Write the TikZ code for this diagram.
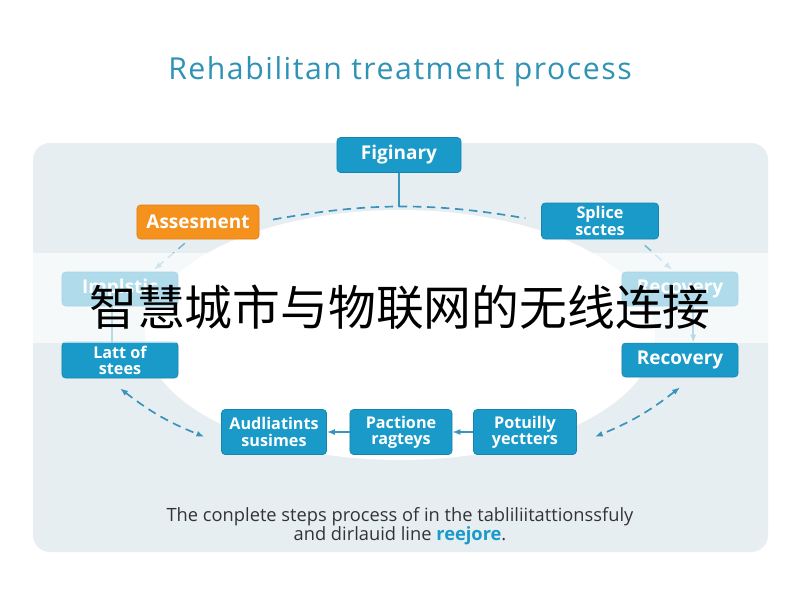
\documentclass[tikz,border=0pt]{standalone}
\usepackage{fontspec}
\setmainfont{Open Sans}
\newfontfamily\cjk{Noto Sans CJK SC}
\usetikzlibrary{arrows.meta}
\definecolor{stepblue}{HTML}{1A9AC8}
\definecolor{stepedge}{HTML}{1584AE}
\definecolor{steporange}{HTML}{F5921E}
\definecolor{orangeedge}{HTML}{E07E10}
\definecolor{titleblue}{HTML}{2E93B5}
\definecolor{panel}{HTML}{E7EEF2}
\definecolor{dashblue}{HTML}{3A93BC}
\definecolor{captext}{HTML}{333333}

\begin{document}
\begin{tikzpicture}[x=0.025cm, y=-0.025cm,
	stepbox/.style={draw=stepedge, fill=stepblue, rounded corners=2.5pt, text=white, align=center, inner sep=0pt, minimum width=2.9cm, minimum height=0.875cm, font=\bfseries\fontsize{13.5}{15}\selectfont},
	twoline/.style={font=\bfseries\fontsize{11.5}{11.5}\selectfont},
	flow/.style={dashblue, line width=1.2pt, dash pattern=on 6pt off 4pt},
	tip/.style={-{Latex[length=2mm]}}]
	\useasboundingbox (0,0) rectangle (800,600);
	\fill[white] (0,0) rectangle (800,600);
	\node[font=\addfontfeature{LetterSpace=5}\fontsize{21.5}{24}\selectfont, text=titleblue] (title) at (400,72) {Rehabilitan treatment process};
	\fill[panel, rounded corners=12pt] (33,143) rectangle (768,552);
	\fill[white] (400,335) ellipse (255 and 125);
	% the steps round the ring
	\node[stepbox, minimum width=3.1cm] (fig) at (399,155) {Figinary};
	\node[stepbox, fill=steporange, draw=orangeedge, minimum width=3.05cm, minimum height=0.85cm] (ass) at (198,222) {Assesment};
	\node[stepbox, twoline, minimum width=2.925cm, minimum height=0.9cm] (spl) at (600,221) {Splice\\scctes};
	\node[stepbox, minimum height=0.85cm] (imp) at (120,289) {Implstic};
	\node[stepbox, minimum height=0.85cm] (recf) at (680,289) {Recovery};
	\node[stepbox, twoline, minimum height=0.9cm] (late) at (120,360) {Latt of\\stees};
	\node[stepbox, minimum height=0.85cm] (rec) at (680,360) {Recovery};
	\node[stepbox, twoline, minimum width=2.625cm, minimum height=1.125cm] (aud) at (274,432) {Audliatints\\susimes};
	\node[stepbox, twoline, minimum width=2.55cm, minimum height=1.125cm] (pac) at (401,432) {Pactione\\ragteys};
	\node[stepbox, twoline, minimum width=2.575cm, minimum height=1.125cm] (pot) at (525,432) {Potuilly\\yectters};
	% connectors
	\draw[flow, shorten <=0.35cm, shorten >=0.4cm] (ass.east) to[bend left=10] coordinate[pos=0.5] (arctop) (spl.west);
	\draw[dashblue, line width=1.2pt] (fig.south) -- (fig.south |- arctop);
	\draw[flow, tip, dashblue!70, line width=1pt] ([xshift=-0.33cm, yshift=-0.1cm]ass.south) -- ([xshift=0.85cm, yshift=0.05cm]imp.north);
	\draw[flow, tip, dashblue!70, line width=1pt] ([xshift=1.12cm, yshift=-0.15cm]spl.south) -- ([xshift=-0.2cm, yshift=0.05cm]recf.north);
	\draw[dashblue, line width=1pt] ([xshift=-0.2cm]imp.south) -- ([xshift=-0.2cm]late.north);
	\draw[dashblue, line width=1.2pt, tip] ([xshift=0.33cm]recf.south) -- ([xshift=0.33cm]rec.north);
	\draw[flow, {Latex[length=2mm]}-{Latex[length=2mm]}] ([yshift=-0.25cm]late.south) to[bend right=8] ([xshift=-0.42cm, yshift=-0.12cm]aud.west);
	\draw[flow, {Latex[length=2mm]}-{Latex[length=2mm]}] ([yshift=-0.25cm]rec.south) to[bend left=8] ([xshift=0.45cm, yshift=-0.12cm]pot.east);
	\draw[dashblue, line width=1.2pt, tip] (pot) -- (pac);
	\draw[dashblue, line width=1.2pt, tip] (pac) -- (aud);
	% watermark band
	\fill[white, opacity=0.65] (0,253) rectangle (800,343);
	\node[font=\cjk\fontsize{34}{38}\selectfont] (wm) at (400,307) {智慧城市与物联网的无线连接};
	\node[font=\fontsize{13}{13.5}\selectfont, text=captext, align=center] (cap) at (400,526) {The conplete steps process of in the tabliliitattionssfuly\\and dirlauid line {\bfseries\color{stepblue}reejore}.};
\end{tikzpicture}
\end{document}
